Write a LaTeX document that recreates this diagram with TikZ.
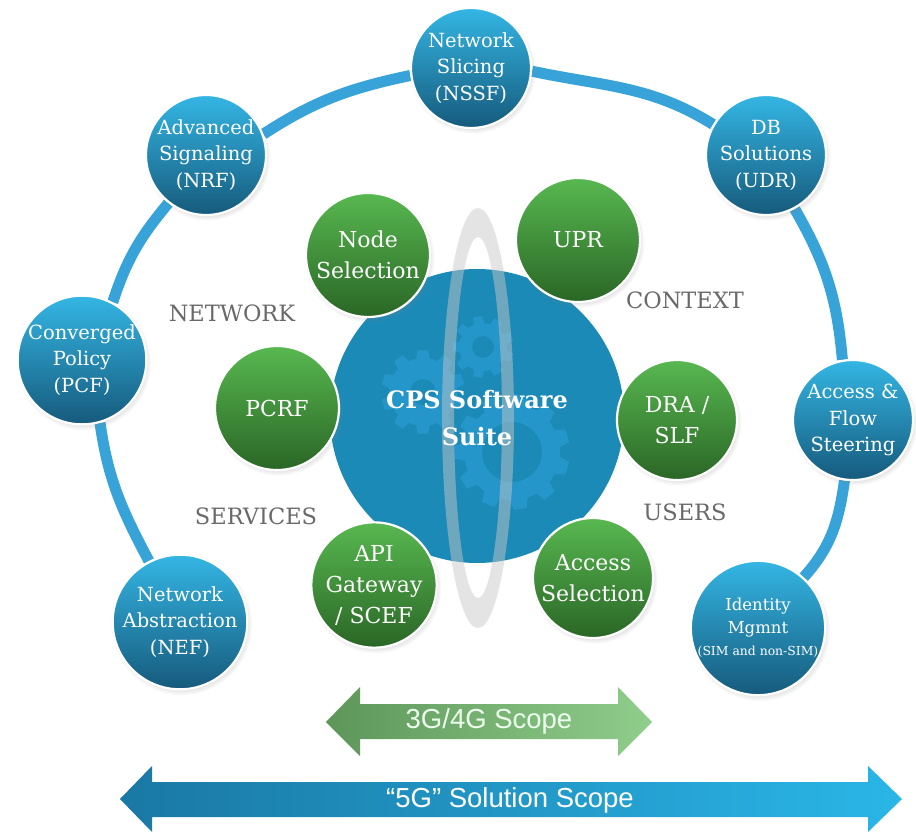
\documentclass[tikz,border=0pt]{standalone}
\usepackage{fontspec}
\setmainfont{DejaVu Serif}
\setsansfont{Liberation Sans}
\usetikzlibrary{shadows,backgrounds,fadings}

\definecolor{ringblue}{RGB}{56,163,216}
\definecolor{btop}{RGB}{52,182,228}
\definecolor{bbot}{RGB}{22,90,124}
\definecolor{gtop}{RGB}{88,184,80}
\definecolor{gbot}{RGB}{42,102,38}
\definecolor{corebl}{RGB}{28,138,182}
\definecolor{gearcol}{RGB}{36,150,202}
\definecolor{ovalgray}{RGB}{200,200,200}
\definecolor{lblgray}{RGB}{105,105,105}
\definecolor{arrgL}{RGB}{94,150,90}
\definecolor{arrgR}{RGB}{144,206,140}
\definecolor{arrbL}{RGB}{26,120,164}
\definecolor{arrbR}{RGB}{42,182,232}

\tikzset{
  bnode/.style={circle, minimum size=120pt, inner sep=0pt, draw=white, line width=2.2pt,
    top color=btop, bottom color=bbot, text=white, align=center,
    font=\fontsize{19.5}{26.5}\selectfont,
    circular drop shadow={shadow xshift=1.5pt, shadow yshift=-2.5pt, shadow scale=1.05, opacity=0.35}},
  gnode/.style={circle, minimum size=124pt, inner sep=0pt, draw=white, line width=2.2pt,
    top color=gtop, bottom color=gbot, text=white, align=center,
    font=\fontsize{22}{31}\selectfont,
    circular drop shadow={shadow xshift=1.5pt, shadow yshift=-2.5pt, shadow scale=1.05, opacity=0.35}},
  lbl/.style={text=lblgray, font=\fontsize{22.5}{26}\selectfont, inner sep=0pt},
  ringseg/.style={draw=ringblue, line width=11pt},
  arrtext/.style={font=\sffamily\fontsize{27.5}{30}\selectfont, inner sep=0pt},
}

\newcommand\cogwheel[6]{%
  \begin{scope}[shift={(#1,#2)}]
    \pgfmathsetmacro\cgs{360/#5}
    \fill[gearcol, even odd rule] (0:#3)
      \foreach \ci in {1,...,#5}{
        -- ({(\ci-1)*\cgs+0.18*\cgs}:#3) -- ({(\ci-1)*\cgs+0.3*\cgs}:#4)
        -- ({(\ci-1)*\cgs+0.7*\cgs}:#4) -- ({(\ci-1)*\cgs+0.82*\cgs}:#3)
        -- ({\ci*\cgs}:#3)
      } -- cycle (0,0) circle (#6);
  \end{scope}}

\begin{document}
\begin{tikzpicture}[x=1pt, y=-1pt]
\useasboundingbox (0,0) rectangle (916,832);

% outer ring nodes
\node[bnode] (nssf) at (471,68)  {Network\\Slicing\\(NSSF)};
\node[bnode] (nrf)  at (206,155) {Advanced\\Signaling\\(NRF)};
\node[bnode] (udr)  at (766,155) {DB\\Solutions\\(UDR)};
\node[bnode] (pcf)  at (82,360)  {Converged\\Policy\\(PCF)};
\node[bnode] (acc)  at (853,420) {Access \&\\Flow\\Steering};
\node[bnode] (nef)  at (180,622) {Network\\Abstraction\\(NEF)};
\node[bnode, font=\fontsize{16.5}{22.5}\selectfont] (idm) at (758,628)
  {Identity\\Mgmnt\\{\fontsize{12.4}{15}\selectfont (SIM and non-SIM)}};

\begin{pgfonlayer}{background}
  \fill[white] (0,0) rectangle (916,832);
  \draw[ringseg] (nef.117) to[out=118, in=-82] (pcf.-74);
  \draw[ringseg] (pcf.62)  to[out=72,  in=230] (nrf.-128);
  \draw[ringseg] (nrf.20)  to[out=33,  in=192] (nssf.187);
  \draw[ringseg] (nssf.-3) to[out=-12, in=148] (udr.150);
  \draw[ringseg] (udr.-62) to[out=-60, in=95]  (acc.100);
  \draw[ringseg] (acc.-98) to[out=-98, in=48] (idm.48);
\end{pgfonlayer}

% core
\node[circle, fill=corebl, minimum size=294pt, inner sep=0pt] (core) at (477,416) {};
\cogwheel{483}{347}{24}{31}{9}{11}
\cogwheel{423}{392}{34}{42}{10}{13}
\cogwheel{512}{452}{48}{58}{11}{30}
\fill[ovalgray, opacity=0.48, even odd rule]
  (478,418) ellipse [x radius=36, y radius=210]
  (478,417.5) ellipse [x radius=24, y radius=180.5];
\node[text=white, font=\bfseries\fontsize{24}{37}\selectfont, align=center] (cps) at (477,418)
  {CPS Software\\Suite};

% inner nodes
\node[gnode] (nsel) at (368,255) {Node\\Selection};
\node[gnode] (upr)  at (578,240) {UPR};
\node[gnode] (pcrf) at (277,408) {PCRF};
\node[gnode, minimum size=120pt] (dra) at (677,420) {DRA /\\SLF};
\node[gnode] (api)  at (374,585) {API\\Gateway\\/ SCEF};
\node[gnode, minimum size=120pt] (asel) at (593,578) {Access\\Selection};

% labels
\node[lbl] (lnet) at (232,313) {NETWORK};
\node[lbl] (lctx) at (685,300) {CONTEXT};
\node[lbl] (lsrv) at (256,516) {SERVICES};
\node[lbl] (lusr) at (685,512) {USERS};

% scope arrows
\shade[left color=arrgL, right color=arrgR]
  (326,722) -- (360,687) -- (360,704) -- (618,704) -- (618,687) -- (652,722)
  -- (618,756) -- (618,739) -- (360,739) -- (360,756) -- cycle;
\node[arrtext, text=white!93!green] (t34) at (489,721) {3G/4G Scope};
\shade[left color=arrbL, right color=arrbR]
  (120,799) -- (152,766) -- (152,782) -- (868,782) -- (868,766) -- (902,799)
  -- (868,832) -- (868,817) -- (152,817) -- (152,832) -- cycle;
\node[arrtext, text=white] (t5g) at (510,800) {“5G” Solution Scope};
\end{tikzpicture}
\end{document}
